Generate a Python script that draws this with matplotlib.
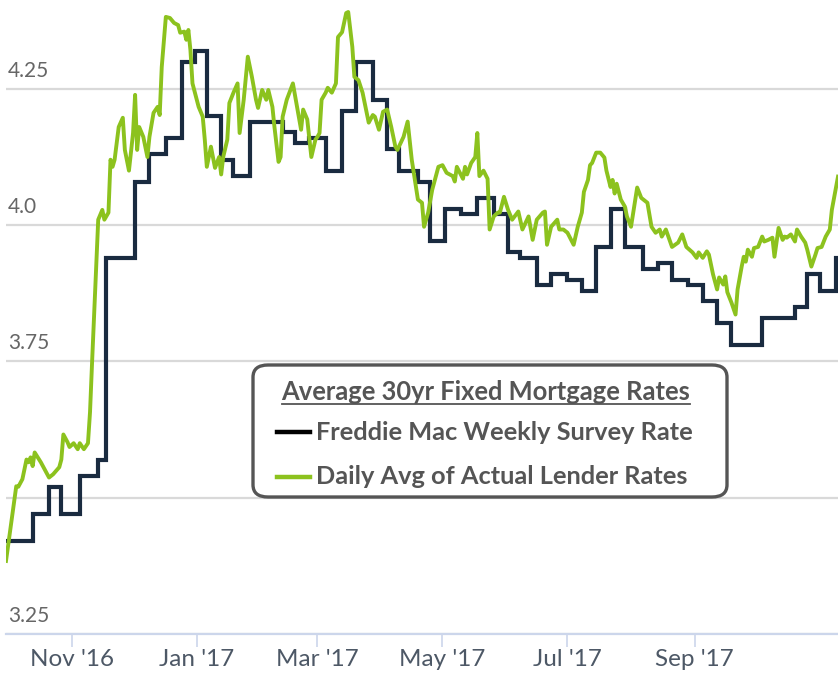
"""Average 30yr fixed mortgage rates: Freddie Mac weekly survey vs daily lender average."""

import matplotlib
matplotlib.use("Agg")
import matplotlib.pyplot as plt  # noqa: E402
import matplotlib.dates as mdates  # noqa: E402
import pandas as pd  # noqa: E402
from matplotlib.lines import Line2D  # noqa: E402
from matplotlib.patches import FancyBboxPatch  # noqa: E402

plt.rcParams["font.family"] = ["Lato", "DejaVu Sans"]

# Freddie Mac weekly survey (held until the next release)
freddie_dates = [
    "2016-09-29", "2016-10-13", "2016-10-21", "2016-10-27", "2016-11-05",
    "2016-11-14", "2016-11-18", "2016-12-02", "2016-12-09", "2016-12-17",
    "2016-12-25", "2016-12-31", "2017-01-06", "2017-01-13", "2017-01-19",
    "2017-01-27", "2017-02-12", "2017-02-18", "2017-02-25", "2017-03-05",
    "2017-03-13", "2017-03-20", "2017-03-28", "2017-04-04", "2017-04-10",
    "2017-04-19", "2017-04-25", "2017-05-02", "2017-05-10", "2017-05-18",
    "2017-05-26", "2017-06-02", "2017-06-08", "2017-06-16", "2017-06-23",
    "2017-07-01", "2017-07-08", "2017-07-15", "2017-07-22", "2017-07-29",
    "2017-08-07", "2017-08-14", "2017-08-21", "2017-08-29", "2017-09-05",
    "2017-09-12", "2017-09-19", "2017-10-04", "2017-10-20", "2017-10-26",
    "2017-11-01", "2017-11-09",
]
freddie_rates = [
    3.42, 3.47, 3.52, 3.47, 3.54,
    3.57, 3.94, 4.08, 4.13, 4.16,
    4.30, 4.32, 4.20, 4.12, 4.09,
    4.19, 4.17, 4.15, 4.16, 4.10,
    4.21, 4.30, 4.23, 4.14, 4.10,
    4.08, 3.97, 4.03, 4.02, 4.05,
    4.02, 3.95, 3.94, 3.89, 3.91,
    3.90, 3.88, 3.96, 4.03, 3.96,
    3.92, 3.93, 3.90, 3.89, 3.86,
    3.82, 3.78, 3.83, 3.85, 3.91,
    3.88, 3.94,
]

# daily average of actual lender rates
lender_dates = [
    "2016-09-30", "2016-10-05", "2016-10-06", "2016-10-08", "2016-10-10",
    "2016-10-11", "2016-10-12", "2016-10-13", "2016-10-14", "2016-10-17",
    "2016-10-21", "2016-10-23", "2016-10-26", "2016-10-27", "2016-10-28",
    "2016-10-30", "2016-10-31", "2016-11-02", "2016-11-04", "2016-11-05",
    "2016-11-07", "2016-11-09", "2016-11-10", "2016-11-11", "2016-11-13",
    "2016-11-14", "2016-11-16", "2016-11-17", "2016-11-19", "2016-11-20",
    "2016-11-21", "2016-11-22", "2016-11-24", "2016-11-26", "2016-11-27",
    "2016-11-29", "2016-12-01", "2016-12-02", "2016-12-03", "2016-12-04",
    "2016-12-06", "2016-12-08", "2016-12-09", "2016-12-11", "2016-12-13",
    "2016-12-14", "2016-12-15", "2016-12-17", "2016-12-19", "2016-12-21",
    "2016-12-23", "2016-12-24", "2016-12-26", "2016-12-27", "2016-12-28",
    "2016-12-29", "2016-12-30", "2017-01-02", "2017-01-04", "2017-01-05",
    "2017-01-06", "2017-01-08", "2017-01-09", "2017-01-10", "2017-01-12",
    "2017-01-13", "2017-01-14", "2017-01-16", "2017-01-17", "2017-01-19",
    "2017-01-21", "2017-01-22", "2017-01-24", "2017-01-26", "2017-01-28",
    "2017-01-30", "2017-01-31", "2017-02-02", "2017-02-04", "2017-02-05",
    "2017-02-07", "2017-02-08", "2017-02-10", "2017-02-11", "2017-02-12",
    "2017-02-14", "2017-02-17", "2017-02-19", "2017-02-21", "2017-02-22",
    "2017-02-24", "2017-02-26", "2017-02-28", "2017-03-01", "2017-03-02",
    "2017-03-03", "2017-03-05", "2017-03-06", "2017-03-08", "2017-03-10",
    "2017-03-11", "2017-03-13", "2017-03-15", "2017-03-16", "2017-03-18",
    "2017-03-19", "2017-03-21", "2017-03-23", "2017-03-26", "2017-03-28",
    "2017-03-29", "2017-03-31", "2017-04-02", "2017-04-04", "2017-04-06",
    "2017-04-08", "2017-04-09", "2017-04-12", "2017-04-14", "2017-04-16",
    "2017-04-19", "2017-04-21", "2017-04-22", "2017-04-24", "2017-04-26",
    "2017-04-29", "2017-05-01", "2017-05-03", "2017-05-06", "2017-05-07",
    "2017-05-08", "2017-05-11", "2017-05-12", "2017-05-13", "2017-05-15",
    "2017-05-17", "2017-05-18", "2017-05-19", "2017-05-21", "2017-05-23",
    "2017-05-24", "2017-05-26", "2017-05-28", "2017-05-29", "2017-05-31",
    "2017-06-02", "2017-06-04", "2017-06-07", "2017-06-09", "2017-06-12",
    "2017-06-14", "2017-06-16", "2017-06-19", "2017-06-20", "2017-06-21",
    "2017-06-23", "2017-06-26", "2017-06-27", "2017-06-29", "2017-07-01",
    "2017-07-04", "2017-07-06", "2017-07-08", "2017-07-09", "2017-07-11",
    "2017-07-12", "2017-07-13", "2017-07-15", "2017-07-17", "2017-07-19",
    "2017-07-20", "2017-07-22", "2017-07-23", "2017-07-24", "2017-07-25",
    "2017-07-27", "2017-07-29", "2017-07-30", "2017-08-01", "2017-08-04",
    "2017-08-06", "2017-08-09", "2017-08-11", "2017-08-13", "2017-08-15",
    "2017-08-16", "2017-08-18", "2017-08-21", "2017-08-24", "2017-08-26",
    "2017-08-28", "2017-08-31", "2017-09-02", "2017-09-03", "2017-09-05",
    "2017-09-07", "2017-09-08", "2017-09-10", "2017-09-12", "2017-09-13",
    "2017-09-15", "2017-09-16", "2017-09-17", "2017-09-19", "2017-09-21",
    "2017-09-22", "2017-09-24", "2017-09-25", "2017-09-26", "2017-09-27",
    "2017-09-29", "2017-09-30", "2017-10-02", "2017-10-04", "2017-10-05",
    "2017-10-07", "2017-10-09", "2017-10-10", "2017-10-11", "2017-10-12",
    "2017-10-14", "2017-10-15", "2017-10-16", "2017-10-18", "2017-10-20",
    "2017-10-21", "2017-10-23", "2017-10-25", "2017-10-26", "2017-10-28",
    "2017-10-30", "2017-10-31", "2017-11-02", "2017-11-04", "2017-11-06",
    "2017-11-07", "2017-11-10",
]
lender_rates = [
    3.384, 3.521, 3.520, 3.534, 3.570,
    3.565, 3.574, 3.558, 3.583, 3.565,
    3.537, 3.543, 3.556, 3.570, 3.616,
    3.602, 3.593, 3.600, 3.589, 3.600,
    3.589, 3.600, 3.657, 3.748, 3.920,
    4.010, 4.028, 4.010, 4.023, 4.120,
    4.107, 4.120, 4.180, 4.197, 4.138,
    4.100, 4.169, 4.239, 4.138, 4.180,
    4.162, 4.125, 4.162, 4.206, 4.217,
    4.202, 4.290, 4.382, 4.380, 4.371,
    4.367, 4.353, 4.355, 4.340, 4.358,
    4.321, 4.260, 4.217, 4.199, 4.157,
    4.107, 4.144, 4.125, 4.105, 4.125,
    4.093, 4.125, 4.157, 4.224, 4.243,
    4.260, 4.169, 4.230, 4.309, 4.272,
    4.230, 4.215, 4.248, 4.230, 4.248,
    4.217, 4.180, 4.116, 4.125, 4.199,
    4.230, 4.260, 4.217, 4.175, 4.212,
    4.194, 4.125, 4.157, 4.162, 4.169,
    4.230, 4.243, 4.252, 4.243, 4.260,
    4.345, 4.354, 4.389, 4.391, 4.327,
    4.272, 4.266, 4.243, 4.188, 4.202,
    4.199, 4.175, 4.208, 4.212, 4.180,
    4.144, 4.138, 4.162, 4.190, 4.120,
    4.047, 4.041, 3.997, 4.023, 4.065,
    4.107, 4.110, 4.096, 4.090, 4.080,
    4.107, 4.085, 4.107, 4.093, 4.114,
    4.125, 4.169, 4.090, 4.100, 4.085,
    3.992, 4.016, 4.023, 4.023, 4.052,
    4.028, 4.010, 4.025, 3.992, 4.016,
    3.973, 4.010, 4.023, 4.025, 3.964,
    3.997, 4.010, 3.992, 3.992, 3.986,
    3.964, 3.997, 4.023, 4.061, 4.083,
    4.110, 4.114, 4.133, 4.133, 4.124,
    4.100, 4.070, 4.083, 4.058, 4.076,
    4.047, 4.034, 4.016, 3.997, 4.069,
    4.050, 4.041, 3.997, 3.986, 3.992,
    3.979, 3.992, 3.960, 3.968, 3.983,
    3.960, 3.950, 3.940, 3.950, 3.940,
    3.952, 3.946, 3.910, 3.882, 3.904,
    3.891, 3.906, 3.877, 3.858, 3.836,
    3.882, 3.924, 3.942, 3.933, 3.955,
    3.942, 3.958, 3.960, 3.979, 3.970,
    3.973, 3.977, 3.942, 3.968, 3.995,
    3.973, 3.979, 3.977, 3.983, 3.970,
    3.992, 3.979, 3.968, 3.955, 3.924,
    3.946, 3.958, 3.960, 3.979, 3.992,
    4.028, 4.089,
]

y_ticks = [3.25, 3.5, 3.75, 4.0, 4.25]
y_labels = ["3.25", "", "3.75", "4.0", "4.25"]
x_tick_dates = ["2016-11-01", "2017-01-01", "2017-03-01",
                "2017-05-01", "2017-07-01", "2017-09-01"]
x_start, x_end = "2016-09-30", "2017-11-10"

NAVY = "#1a2b40"
GREEN = "#8cc21e"
LEGEND_GREY = "#555555"

fd = pd.to_datetime(freddie_dates)
ld = pd.to_datetime(lender_dates)
xe = pd.Timestamp(x_end)

fig = plt.figure(figsize=(8.38, 6.78), dpi=100)
ax = fig.add_axes([6 / 838, 44 / 678, 832 / 838, 634 / 678])

ax.plot(list(fd) + [xe], freddie_rates + [freddie_rates[-1]],
        drawstyle="steps-post", color=NAVY, lw=3.0, solid_joinstyle="miter",
        zorder=3)
ax.plot(ld, lender_rates, color=GREEN, lw=2.8, zorder=4,
        solid_joinstyle="round")

ax.set_xlim(pd.Timestamp(x_start), xe)
ax.set_ylim(3.25, 4.413)

ax.set_yticks(y_ticks)
ax.set_yticklabels([])
ax.tick_params(axis="y", length=0)
ax.grid(axis="y", color="#d9d9d9", lw=1.6)
ax.set_axisbelow(True)
for v, lab in zip(y_ticks, y_labels):
    ax.annotate(lab, xy=(0, v), xycoords=("axes fraction", "data"),
                xytext=(1.5, 6), textcoords="offset points",
                ha="left", va="bottom", fontsize=15, color="#666666")

ax.set_xticks(pd.to_datetime(x_tick_dates))
ax.xaxis.set_major_formatter(mdates.DateFormatter("%b '%y"))
ax.tick_params(axis="x", length=9.5, width=1.2, color="#ccd6eb",
               labelsize=17.5, labelcolor="#4d5866", pad=1.5)

for side in ("left", "right", "top"):
    ax.spines[side].set_visible(False)
ax.spines["bottom"].set_color("#ccd6eb")
ax.spines["bottom"].set_linewidth(1.6)

# legend box, drawn in figure pixels
W, H = 838, 678


def fx(x):
    return x / W


def fy(y):
    return 1 - y / H


box = FancyBboxPatch((fx(253), fy(497)), fx(727) - fx(253), fy(365) - fy(497),
                     boxstyle="round,pad=0,rounding_size=0.018",
                     transform=fig.transFigure, facecolor="white",
                     edgecolor=LEGEND_GREY, lw=2.4, zorder=10)
fig.patches.append(box)

title = fig.text(fx(486), fy(392), "Average 30yr Fixed Mortgage Rates",
                 ha="center", va="center", fontsize=18.4, fontweight="bold",
                 color=LEGEND_GREY, zorder=11)
fig.canvas.draw()
bb = title.get_window_extent(fig.canvas.get_renderer())
fig.add_artist(Line2D([bb.x0 / W, bb.x1 / W], [fy(404), fy(404)],
                      transform=fig.transFigure, color=LEGEND_GREY, lw=1.3,
                      zorder=11))

items = [("Freddie Mac Weekly Survey Rate", "#000000", 432),
         ("Daily Avg of Actual Lender Rates", GREEN, 477)]
for label, col, yy in items:
    fig.add_artist(Line2D([fx(277), fx(310)], [fy(yy), fy(yy)],
                          transform=fig.transFigure, color=col, lw=3.2,
                          zorder=11))
    fig.text(fx(316), fy(yy), label, ha="left", va="center", fontsize=18.3,
             fontweight="bold", color=LEGEND_GREY, zorder=11)

fig.savefig("out.png", dpi=100, facecolor="white")
